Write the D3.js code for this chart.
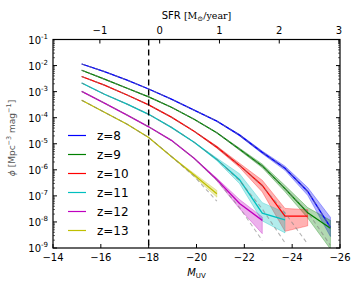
<!DOCTYPE html>
<html>
<head>
<meta charset="utf-8">
<script src="https://cdn.jsdelivr.net/npm/d3@7"></script>
<style>
  body { margin: 0; background: #fff; }
  svg { display: block; }
  text { font-family: "DejaVu Sans", sans-serif; }
</style>
</head>
<body>
<svg id="chart" width="360" height="288"></svg>
<script>
// magnitude bins (M_UV)
var mags = [-15.2, -16.15, -17.1, -18.0, -18.95, -19.9, -20.85, -21.8, -22.75, -23.7, -24.65, -25.6];

var labels = ["z=8", "z=9", "z=10", "z=11", "z=12", "z=13"];
var colors = ["#0000ff", "#008000", "#ff0000", "#00bfbf", "#bf00bf", "#bfbf00"];

// log10 phi for each redshift (starting at the faintest bin)
var logPhi = [
  [-1.94, -2.23, -2.56, -2.90, -3.29, -3.71, -4.13, -4.67, -5.33, -5.94, -6.83, -8.21],
  [-2.18, -2.52, -2.87, -3.20, -3.60, -4.06, -4.58, -5.21, -5.85, -6.72, -7.65, -8.24],
  [-2.42, -2.75, -3.13, -3.51, -3.98, -4.52, -5.13, -5.83, -6.60, -7.78, -7.78],
  [-2.67, -3.10, -3.48, -3.87, -4.37, -4.94, -5.60, -6.38, -7.66, -7.92],
  [-2.99, -3.44, -3.90, -4.35, -4.87, -5.56, -6.37, -7.29, -7.94],
  [-3.33, -3.79, -4.25, -4.76, -5.49, -6.20, -6.92]
];

// band half-widths in dex (above / below)
var errUp = [
  [0, 0, 0, 0, 0, 0, 0, 0.03, 0.05, 0.08, 0.15, 0.39],
  [0, 0, 0, 0, 0, 0, 0, 0.04, 0.07, 0.12, 0.2, 0.3],
  [0, 0, 0, 0, 0, 0, 0.04, 0.08, 0.2, 0.3, 0.25],
  [0, 0, 0, 0, 0, 0, 0.05, 0.23, 0.4, 0.28],
  [0, 0, 0, 0, 0, 0, 0.05, 0.15, 0.13],
  [0, 0, 0, 0, 0, 0.06, 0.13]
];
var errDown = [
  [0, 0, 0, 0, 0, 0, 0, 0.03, 0.05, 0.08, 0.15, 0.35],
  [0, 0, 0, 0, 0, 0, 0, 0.04, 0.07, 0.12, 0.2, 0.8],
  [0, 0, 0, 0, 0, 0, 0.04, 0.08, 0.25, 0.58, 0.37],
  [0, 0, 0, 0, 0, 0, 0.05, 0.15, 0.3, 0.5],
  [0, 0, 0, 0, 0, 0, 0.05, 0.2, 0.51],
  [0, 0, 0, 0, 0, 0.06, 0.13]
];

// fitted curves (grey dashed)
var logFit = [
  [-1.94, -2.23, -2.56, -2.90, -3.29, -3.71, -4.13, -4.67, -5.33, -5.94, -6.83, -8.21],
  [-2.18, -2.52, -2.87, -3.20, -3.60, -4.06, -4.58, -5.21, -5.87, -6.72, -7.62, -8.9],
  [-2.42, -2.75, -3.13, -3.51, -3.98, -4.52, -5.13, -5.83, -6.62, -7.65, -8.85],
  [-2.67, -3.10, -3.48, -3.87, -4.37, -4.94, -5.60, -6.42, -7.5, -8.8],
  [-2.99, -3.44, -3.90, -4.35, -4.87, -5.56, -6.40, -7.45, -8.71],
  [-3.33, -3.79, -4.25, -4.76, -5.49, -6.25, -7.2]
];

var xTicks = [-14, -16, -18, -20, -22, -24, -26];
var sfrTicks = [-1, 0, 1, 2, 3];
var yTicks = [1e-9, 1e-8, 1e-7, 1e-6, 1e-5, 1e-4, 1e-3, 1e-2, 1e-1];
var cutMag = -18;

var svg = d3.select("#chart");
var pL = 53, pR = 340, pT = 39.5, pB = 248;

var x = d3.scaleLinear().domain([-14, -26]).range([pL, pR]);
var y = d3.scaleLog().domain([1e-9, 1e-1]).range([pB, pT]);
// SFR = -(M + 18.46) / 2.5
var xs = d3.scaleLinear().domain([-(-14 + 18.46) / 2.5, -(-26 + 18.46) / 2.5]).range([pL, pR]);

svg.append("clipPath").attr("id", "clip")
  .append("rect").attr("x", pL).attr("y", pT).attr("width", pR - pL).attr("height", pB - pT);

var plot = svg.append("g").attr("clip-path", "url(#clip)");

// bands
labels.forEach(function(lab, i) {
  var pts = logPhi[i].map(function(v, j) {
    return {m: mags[j], hi: Math.pow(10, v + errUp[i][j]), lo: Math.pow(10, v - errDown[i][j])};
  });
  var area = d3.area()
    .x(function(d) { return x(d.m); })
    .y0(function(d) { return y(d.lo); })
    .y1(function(d) { return y(d.hi); });
  plot.append("path").datum(pts)
    .attr("d", area)
    .attr("fill", colors[i]).attr("fill-opacity", 0.3)
    .attr("stroke", colors[i]).attr("stroke-opacity", 0.3).attr("stroke-width", 1);
});

var line = d3.line()
  .x(function(d) { return x(d.m); })
  .y(function(d) { return y(d.p); });

labels.forEach(function(lab, i) {
  var pts = logPhi[i].map(function(v, j) { return {m: mags[j], p: Math.pow(10, v)}; });
  plot.append("path").datum(pts)
    .attr("d", line)
    .attr("fill", "none").attr("stroke", colors[i]).attr("stroke-width", 1.3);
});

labels.forEach(function(lab, i) {
  var pts = logFit[i].map(function(v, j) { return {m: mags[j], p: Math.pow(10, v)}; });
  plot.append("path").datum(pts)
    .attr("d", line)
    .attr("fill", "none").attr("stroke", "#808080").attr("stroke-opacity", 0.6)
    .attr("stroke-width", 1.1).attr("stroke-dasharray", "4,3");
});

// vertical cut
svg.append("line")
  .attr("x1", x(cutMag)).attr("x2", x(cutMag))
  .attr("y1", pT).attr("y2", pB)
  .attr("stroke", "#000").attr("stroke-width", 1.4).attr("stroke-dasharray", "6,4");

// frame
svg.append("rect")
  .attr("x", pL).attr("y", pT).attr("width", pR - pL).attr("height", pB - pT)
  .attr("fill", "none").attr("stroke", "#000").attr("stroke-width", 1.2);

// bottom ticks
xTicks.forEach(function(t) {
  svg.append("line").attr("x1", x(t)).attr("x2", x(t)).attr("y1", pB).attr("y2", pB - 4)
    .attr("stroke", "#000");
  svg.append("text").attr("x", x(t)).attr("y", pB + 13)
    .attr("text-anchor", "middle").attr("font-size", 10)
    .text(String(t).replace("-", "\u2212"));
});

// top ticks (SFR)
sfrTicks.forEach(function(t) {
  svg.append("line").attr("x1", xs(t)).attr("x2", xs(t)).attr("y1", pT).attr("y2", pT + 4)
    .attr("stroke", "#000");
  svg.append("text").attr("x", xs(t)).attr("y", pT - 6)
    .attr("text-anchor", "middle").attr("font-size", 10)
    .text(String(t).replace("-", "\u2212"));
});

// y ticks, major and minor, both sides
yTicks.forEach(function(t, k) {
  [pL, pR].forEach(function(sx) {
    var dir = sx === pL ? 1 : -1;
    svg.append("line").attr("x1", sx).attr("x2", sx + dir * 4).attr("y1", y(t)).attr("y2", y(t))
      .attr("stroke", "#000");
    if (k < yTicks.length - 1) {
      for (var m = 2; m < 10; m++) {
        svg.append("line").attr("x1", sx).attr("x2", sx + dir * 2)
          .attr("y1", y(t * m)).attr("y2", y(t * m))
          .attr("stroke", "#000").attr("stroke-width", 0.6);
      }
    }
  });
  var lab = svg.append("text").attr("x", pL - 5).attr("y", y(t) + 4)
    .attr("text-anchor", "end").attr("font-size", 10);
  lab.append("tspan").text("10");
  lab.append("tspan").attr("dy", -5).attr("font-size", 7).text(String(Math.round(Math.log10(t))));
});

// axis labels
var xl = svg.append("text").attr("x", (pL + pR) / 2).attr("y", 276)
  .attr("text-anchor", "middle").attr("font-family", "DejaVu Serif, serif").attr("font-size", 10);
xl.append("tspan").attr("font-style", "italic").text("M");
xl.append("tspan").attr("dy", 2).attr("font-size", 7).text("UV");

var tl = svg.append("text").attr("x", (pL + pR) / 2).attr("y", 19)
  .attr("text-anchor", "middle").attr("font-size", 10);
tl.append("tspan").text("SFR ");
tl.append("tspan").attr("font-family", "DejaVu Serif, serif").attr("font-size", 9.5).text("[M");
tl.append("tspan").attr("font-family", "DejaVu Serif, serif").attr("font-size", 7).attr("dy", 2).text("\u2299");
tl.append("tspan").attr("font-family", "DejaVu Serif, serif").attr("font-size", 9.5).attr("dy", -2).text("/year]");

var yl = svg.append("text").attr("transform", "translate(15," + 138 + ") rotate(-90)")
  .attr("text-anchor", "middle").attr("font-family", "DejaVu Serif, serif").attr("font-size", 9)
  .attr("fill", "#555");
yl.append("tspan").attr("font-style", "italic").text("\u03d5 ");
yl.append("tspan").text("[Mpc");
yl.append("tspan").attr("dy", -4).attr("font-size", 6.5).text("\u22123");
yl.append("tspan").attr("dy", 4).text(" mag");
yl.append("tspan").attr("dy", -4).attr("font-size", 6.5).text("\u22121");
yl.append("tspan").attr("dy", 4).text("]");

// legend
var leg = svg.append("g");
labels.forEach(function(lab, i) {
  var ly = 135.5 + i * 19;
  leg.append("line").attr("x1", 68).attr("x2", 86).attr("y1", ly).attr("y2", ly)
    .attr("stroke", colors[i]).attr("stroke-width", 1.2);
  leg.append("text").attr("x", 97).attr("y", ly + 4.5).attr("font-size", 12).text(lab);
});
</script>
</body>
</html>
